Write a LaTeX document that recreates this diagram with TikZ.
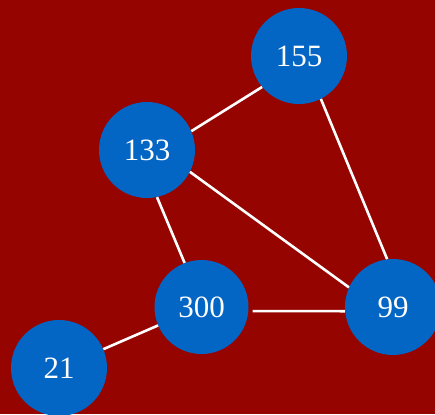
\documentclass[tikz,border=0pt]{standalone}
\usepackage{fontspec}
\setmainfont{Liberation Serif}
\definecolor{bgred}{RGB}{150,4,0}
\definecolor{nodeblue}{RGB}{3,101,196}
\begin{document}
\begin{tikzpicture}[x=1pt,y=-1pt,
  vertex/.style={circle,fill=nodeblue,draw=none,inner sep=0pt,
    minimum size=#1,text=white,font=\fontsize{31}{31}\selectfont},
  vertex/.default=96pt,
  link/.style={draw=white,line width=2.6pt}]
  \fill[bgred] (0,0) rectangle (435,414);
  \useasboundingbox (0,0) rectangle (435,414);

  \node[vertex] (n155) at (299,56) {155};
  \node[vertex] (n133) at (147,150) {133};
  \node[vertex=94pt] (n300) at (201.5,307) {300};
  \node[vertex] (n99) at (393,307) {99};
  \node[vertex] (n21) at (59,368) {21};

  \draw[link] (n133.23) -- (n155.220);
  \draw[link] (n133.-27) -- (n99.156);
  \draw[link] (n133.-78) -- (n300.111);
  \draw[link] (n155.-63) -- (n99.97);
  \draw[link] ([xshift=4pt]n300.-5) -- (n99.185);
  \draw[link] (n21.23) -- (n300.203);
\end{tikzpicture}
\end{document}
